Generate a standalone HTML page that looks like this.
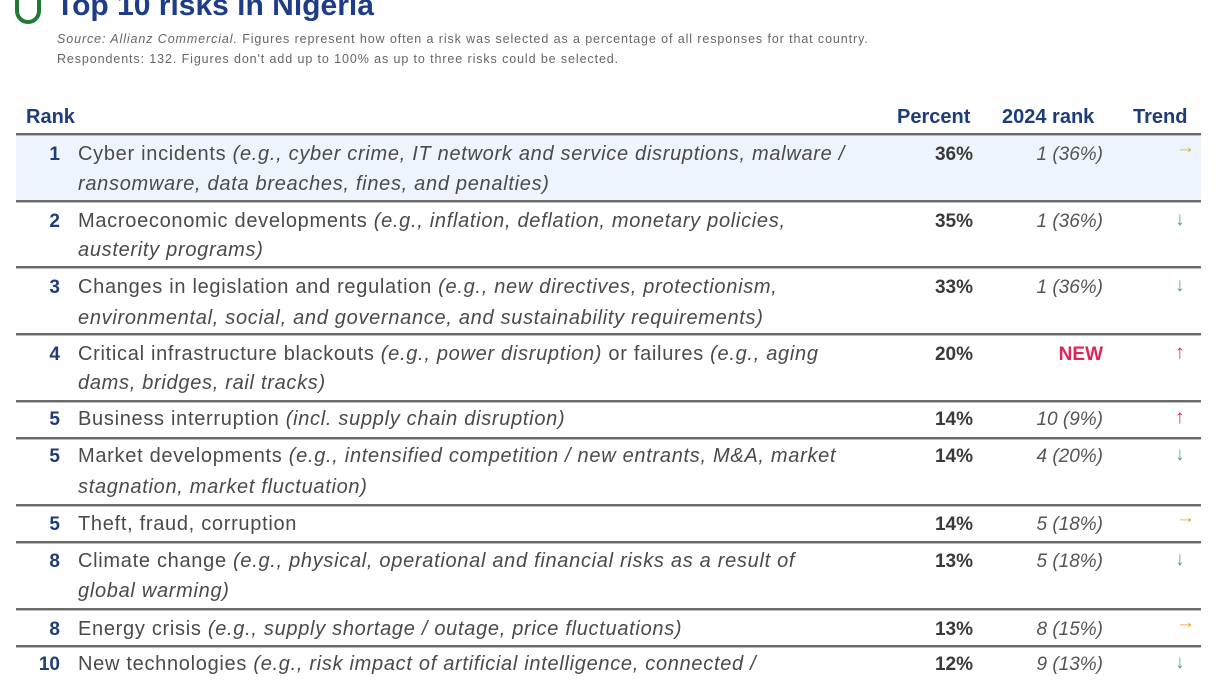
<!DOCTYPE html>
<html><head><meta charset="utf-8"><style>
body{margin:0;width:1216px;height:684px;overflow:hidden;background:#fff;font-family:"Liberation Sans",sans-serif;position:relative}
.a{position:absolute;white-space:nowrap}
.t{font-size:20px;color:#4a4a4a;letter-spacing:0.7px}
.i{font-style:italic}
.n{font-size:19px;font-weight:bold;color:#1e3c78;text-align:right;width:40px;left:20px}
.p{font-size:19px;font-weight:bold;color:#3a3a3a;text-align:right;width:100px;left:873px}
.r{font-size:19px;font-style:italic;color:#555;text-align:right;width:150px;left:953px}
.ar{font-size:19px;font-weight:bold;left:1175px;margin-top:-2px}
.rt{margin-top:-7px;left:1176px}
.sep{position:absolute;left:16px;width:1185px;height:2px;background:#6a6a6a;border-bottom:1px solid #bbb}
.h{font-size:20px;font-weight:bold;color:#1e3c78}
.s{font-size:12.5px;color:#666;letter-spacing:0.9px}
</style></head><body>
<div class="a" style="left:15px;top:-6px;width:26px;height:30px;border:4px solid #1f7a36;border-top:none;border-radius:0 0 14px 14px;box-sizing:border-box;background:#fff"></div>
<div class="a" style="left:56px;top:-11px;font-size:30px;font-weight:bold;color:#1e3c88">Top 10 risks in Nigeria</div>
<div class="a s" style="left:57px;top:32px"><i>Source: Allianz Commercial.</i> Figures represent how often a risk was selected as a percentage of all responses for that country.</div>
<div class="a s" style="left:57px;top:52px">Respondents: 132. Figures don't add up to 100% as up to three risks could be selected.</div>

<div class="a h" style="left:26px;top:106px">Rank</div>
<div class="a h" style="left:897px;top:106px">Percent</div>
<div class="a h" style="left:1002px;top:106px">2024 rank</div>
<div class="a h" style="left:1133px;top:106px">Trend</div>

<div class="a" style="left:16px;top:135px;width:1185px;height:65px;background:#eef4fb"></div>
<div class="sep" style="top:133px"></div>
<div class="sep" style="top:200px"></div>
<div class="sep" style="top:266px"></div>
<div class="sep" style="top:333px"></div>
<div class="sep" style="top:400px"></div>
<div class="sep" style="top:437px"></div>
<div class="sep" style="top:504px"></div>
<div class="sep" style="top:541px"></div>
<div class="sep" style="top:608px"></div>
<div class="sep" style="top:645px"></div>

<div class="a n" style="top:144px">1</div>
<div class="a t" style="left:78px;top:143px">Cyber incidents <span class="i">(e.g., cyber crime, IT network and service disruptions, malware /</span></div>
<div class="a t i" style="left:78px;top:173px">ransomware, data breaches, fines, and penalties)</div>
<div class="a p" style="top:144px">36%</div><div class="a r" style="top:144px">1 (36%)</div><div class="a ar rt" style="top:144px;color:#f0a020">→</div>

<div class="a n" style="top:211px">2</div>
<div class="a t" style="left:78px;top:210px">Macroeconomic developments <span class="i">(e.g., inflation, deflation, monetary policies,</span></div>
<div class="a t i" style="left:78px;top:239px">austerity programs)</div>
<div class="a p" style="top:211px">35%</div><div class="a r" style="top:211px">1 (36%)</div><div class="a ar" style="top:211px;color:#4aaa70">↓</div>

<div class="a n" style="top:277px">3</div>
<div class="a t" style="left:78px;top:276px">Changes in legislation and regulation <span class="i">(e.g., new directives, protectionism,</span></div>
<div class="a t i" style="left:78px;top:307px">environmental, social, and governance, and sustainability requirements)</div>
<div class="a p" style="top:277px">33%</div><div class="a r" style="top:277px">1 (36%)</div><div class="a ar" style="top:277px;color:#4aaa70">↓</div>

<div class="a n" style="top:344px">4</div>
<div class="a t" style="left:78px;top:343px">Critical infrastructure blackouts <span class="i">(e.g., power disruption)</span> or failures <span class="i">(e.g., aging</span></div>
<div class="a t i" style="left:78px;top:372px">dams, bridges, rail tracks)</div>
<div class="a p" style="top:344px">20%</div><div class="a r" style="top:344px;font-style:normal;font-weight:bold;color:#e0245a">NEW</div><div class="a ar" style="top:344px;color:#e0245a">↑</div>

<div class="a n" style="top:409px">5</div>
<div class="a t" style="left:78px;top:408px">Business interruption <span class="i">(incl. supply chain disruption)</span></div>
<div class="a p" style="top:409px">14%</div><div class="a r" style="top:409px">10 (9%)</div><div class="a ar" style="top:409px;color:#e0245a">↑</div>

<div class="a n" style="top:446px">5</div>
<div class="a t" style="left:78px;top:445px">Market developments <span class="i">(e.g., intensified competition / new entrants, M&amp;A, market</span></div>
<div class="a t i" style="left:78px;top:476px">stagnation, market fluctuation)</div>
<div class="a p" style="top:446px">14%</div><div class="a r" style="top:446px">4 (20%)</div><div class="a ar" style="top:446px;color:#4aaa70">↓</div>

<div class="a n" style="top:514px">5</div>
<div class="a t" style="left:78px;top:513px">Theft, fraud, corruption</div>
<div class="a p" style="top:514px">14%</div><div class="a r" style="top:514px">5 (18%)</div><div class="a ar rt" style="top:514px;color:#f0a020">→</div>

<div class="a n" style="top:551px">8</div>
<div class="a t" style="left:78px;top:550px">Climate change <span class="i">(e.g., physical, operational and financial risks as a result of</span></div>
<div class="a t i" style="left:78px;top:580px">global warming)</div>
<div class="a p" style="top:551px">13%</div><div class="a r" style="top:551px">5 (18%)</div><div class="a ar" style="top:551px;color:#4aaa70">↓</div>

<div class="a n" style="top:619px">8</div>
<div class="a t" style="left:78px;top:618px">Energy crisis <span class="i">(e.g., supply shortage / outage, price fluctuations)</span></div>
<div class="a p" style="top:619px">13%</div><div class="a r" style="top:619px">8 (15%)</div><div class="a ar rt" style="top:619px;color:#f0a020">→</div>

<div class="a n" style="top:654px">10</div>
<div class="a t" style="left:78px;top:653px">New technologies <span class="i">(e.g., risk impact of artificial intelligence, connected /</span></div>
<div class="a p" style="top:654px">12%</div><div class="a r" style="top:654px">9 (13%)</div><div class="a ar" style="top:654px;color:#4aaa70">↓</div>
</body></html>
